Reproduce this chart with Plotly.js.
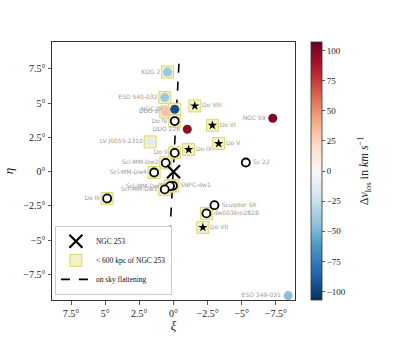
<!DOCTYPE html>
<html>
<head>
<meta charset="utf-8">
<script src="https://cdn.plot.ly/plotly-3.0.1.min.js"></script>
<style>
  html, body { margin: 0; padding: 0; background: #fff; }
  #chart { width: 407px; height: 341px; }
</style>
</head>
<body>
<div id="chart"></div>
<script>
// Dwarf galaxies around NGC 253, on-sky coordinates (deg) and velocity offset (km/s)
var names = ['KDG 2', 'ESO 540-032', 'DDO 6', 'NGC 247', 'Do VIII', 'Do IV', 'DDO 226', 'NGC 59',
             'Do VI', 'LV J0055-2310', 'Do V', 'Do IX', 'Do II', 'Scl-MM-Dw2', 'Scl-MM-Dw4', 'Sc 22',
             'SNFC-dw1', 'Scl-MM-Dw1', 'Scl-MM-Dw5', 'Do III', 'Sculptor SR', 'dw0036m2828', 'Do VII',
             'ESO 349-031'];
var xi  = [0.44, 0.64, 0.57, -0.09, -1.56, -0.09, -1.01, -7.27,
           -2.85, 1.71, -3.31, -1.11, -0.09, 0.57, 1.42, -5.30,
           0.04, 0.25, 0.64, 4.86, -3.00, -2.41, -2.15,
           -8.40];
var eta = [7.26, 5.40, 4.35, 4.55, 4.79, 3.69, 3.09, 3.89,
           3.38, 2.17, 2.05, 1.61, 1.37, 0.64, -0.06, 0.67,
           -1.03, -1.05, -1.29, -1.95, -2.44, -3.04, -4.06,
           -9.03];
// null = no velocity measurement
var dvlos = [-40, -40, 32, -95, null, null, 95, 100,
             null, -12, null, null, null, null, null, null,
             null, null, null, null, null, null, null,
             -45];
// 1 = within 600 kpc of NGC 253
var within600 = [1, 1, 1, 1, 1, 1, 0, 0,
                 1, 1, 1, 1, 1, 1, 1, 0,
                 1, 1, 1, 1, 0, 1, 1,
                 0];
// star symbol for these
var starred = ['Do VIII', 'Do VI', 'Do V', 'Do IX', 'Do VII'];

var host = {name: 'NGC 253', xi: [0], eta: [0]};
var flatXi = [-0.40, 0.44];
var flatEta = [7.87, -7.77];

var xTicks = [7.5, 5, 2.5, 0, -2.5, -5, -7.5];
var xTickText = ['7.5°', '5°', '2.5°', '0°', '−2.5°', '−5°', '−7.5°'];
var yTicks = [7.5, 5, 2.5, 0, -2.5, -5, -7.5];
var yTickText = ['7.5°', '5°', '2.5°', '0°', '−2.5°', '−5°', '−7.5°'];
var cbTicks = [100, 75, 50, 25, 0, -25, -50, -75, -100];
var cbTickText = ['100', '75', '50', '25', '0', '−25', '−50', '−75', '−100'];

// label placement per galaxy
var labelPos = ['middle left', 'middle left', 'middle left', 'middle left', 'middle right', 'middle left',
                'middle left', 'middle left', 'middle right', 'middle left', 'middle right', 'middle right',
                'middle left', 'middle left', 'middle left', 'middle right', 'middle right', 'middle left',
                'middle left', 'middle left', 'middle right', 'middle right', 'middle right', 'middle left'];

var RdBu_r = [[0, '#053061'], [0.1, '#2166ac'], [0.2, '#4393c3'], [0.3, '#92c5de'], [0.4, '#d1e5f0'],
              [0.5, '#f7f7f7'], [0.6, '#fddbc7'], [0.7, '#f4a582'], [0.8, '#d6604d'], [0.9, '#b2182b'],
              [1, '#67001f']];

function pick(arr, test) {
    var out = [];
    for (var i = 0; i < names.length; i++) if (test(i)) out.push(arr[i]);
    return out;
}
var isStar = function(i) { return starred.indexOf(names[i]) >= 0; };
var hasV = function(i) { return dvlos[i] !== null; };

var serif = 'Liberation Serif, DejaVu Serif, serif';

var flattening = {
    x: flatXi, y: flatEta,
    mode: 'lines',
    name: 'on sky flattening',
    line: {color: 'black', width: 1.6, dash: 'dash'},
    legendrank: 3
};

var squares = {
    x: pick(xi, function(i) { return within600[i]; }),
    y: pick(eta, function(i) { return within600[i]; }),
    mode: 'markers',
    name: '< 600 kpc of NGC 253',
    marker: {symbol: 'square', size: 12, color: '#f4f1c6', line: {color: '#d9d66f', width: 1}},
    legendrank: 2
};

var labels = {
    x: xi, y: eta, text: names,
    mode: 'markers+text',
    textposition: labelPos,
    textfont: {family: 'DejaVu Sans, sans-serif', size: 6, color: '#9a9a9a'},
    marker: {size: 10, opacity: 0},
    showlegend: false, hoverinfo: 'skip'
};

var empty = {
    x: pick(xi, function(i) { return !hasV(i) && !isStar(i); }),
    y: pick(eta, function(i) { return !hasV(i) && !isStar(i); }),
    mode: 'markers',
    marker: {symbol: 'circle', size: 8, color: 'white', line: {color: 'black', width: 1.8}},
    showlegend: false
};

var stars = {
    x: pick(xi, isStar),
    y: pick(eta, isStar),
    mode: 'markers',
    marker: {symbol: 'star', size: 7, color: 'black', line: {width: 0}},
    showlegend: false
};

var coloured = {
    x: pick(xi, hasV),
    y: pick(eta, hasV),
    mode: 'markers',
    marker: {
        symbol: 'circle', size: 9,
        color: pick(dvlos, hasV),
        colorscale: RdBu_r, cmin: -107, cmax: 107,
        line: {width: 0},
        colorbar: {
            x: 1.066, xanchor: 'left', xpad: 0, y: 0.5, yanchor: 'middle', ypad: 0,
            len: 1, lenmode: 'fraction', thickness: 11,
            outlinewidth: 0.8, outlinecolor: '#333',
            ticks: 'outside', ticklen: 3, tickwidth: 0.8, tickcolor: '#333',
            tickvals: cbTicks, ticktext: cbTickText,
            tickfont: {family: serif, size: 9, color: '#222'},
            title: {text: ''}
        }
    },
    showlegend: false
};

var centre = {
    x: host.xi, y: host.eta,
    mode: 'markers',
    name: host.name,
    marker: {symbol: 'x-thin', size: 13, color: 'black', line: {color: 'black', width: 2.2}},
    legendrank: 1
};

var data = [flattening, squares, labels, empty, stars, coloured, centre];

var layout = {
    width: 407, height: 341,
    margin: {l: 52, r: 112, t: 42, b: 41},
    paper_bgcolor: 'white', plot_bgcolor: 'white',
    font: {family: serif, color: '#222'},
    xaxis: {
        range: [8.9, -8.9],
        tickvals: xTicks, ticktext: xTickText,
        ticks: 'outside', ticklen: 3.5, tickwidth: 0.8, tickcolor: '#333',
        tickfont: {family: serif, size: 10, color: '#222'},
        showgrid: false, zeroline: false,
        showline: true, mirror: true, linecolor: '#333', linewidth: 1,
        title: {text: '<i>ξ</i>', font: {family: serif, size: 13}, standoff: 0}
    },
    yaxis: {
        range: [-9.35, 9.45],
        tickvals: yTicks, ticktext: yTickText,
        ticks: 'outside', ticklen: 3.5, tickwidth: 0.8, tickcolor: '#333',
        tickfont: {family: serif, size: 10, color: '#222'},
        showgrid: false, zeroline: false,
        showline: true, mirror: true, linecolor: '#333', linewidth: 1,
        title: {text: '<i>η</i>', font: {family: serif, size: 13}, standoff: 6}
    },
    annotations: [{
        text: 'Δ<i>v</i><sub>los</sub> in <i>km s</i><sup>−1</sup>',
        xref: 'paper', yref: 'paper', x: 1.285, y: 0.5,
        xanchor: 'center', yanchor: 'middle',
        textangle: -90, showarrow: false,
        font: {family: serif, size: 12, color: '#222'}
    }],
    legend: {
        x: 0.012, y: 0.02, xanchor: 'left', yanchor: 'bottom',
        bgcolor: 'white', bordercolor: '#cccccc', borderwidth: 1,
        font: {family: serif, size: 7.5, color: '#111'},
        tracegroupgap: 0, itemwidth: 30
    },
    showlegend: true
};

Plotly.newPlot('chart', data, layout, {displayModeBar: false, staticPlot: true});
</script>
</body>
</html>
